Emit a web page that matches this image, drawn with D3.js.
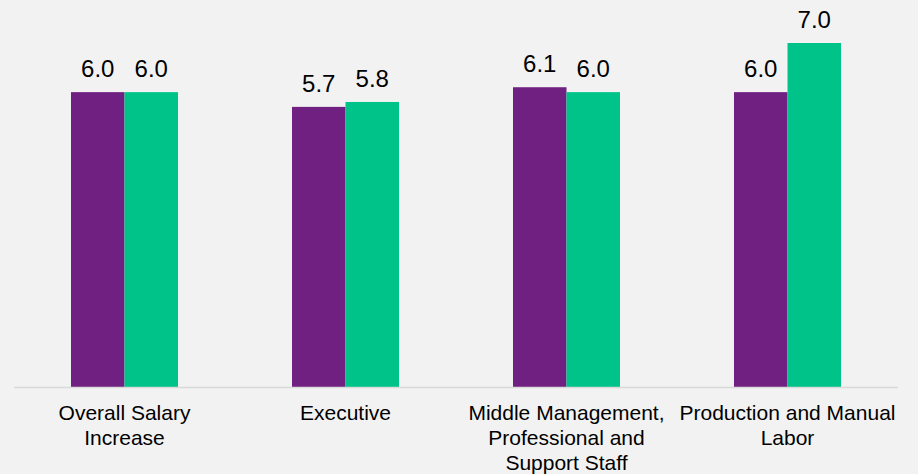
<!DOCTYPE html>
<html>
<head>
<meta charset="utf-8">
<script src="https://cdn.jsdelivr.net/npm/d3@7/dist/d3.min.js"></script>
<style>
  html, body { margin: 0; padding: 0; background: #f2f2f2; }
  svg { display: block; }
  text { font-family: "Liberation Sans", Arial, sans-serif; fill: #000; }
</style>
</head>
<body>
<svg id="chart" width="918" height="474"></svg>
<script>
// Categories (each label split into its display lines)
const categories = [
  "Overall Salary Increase",
  "Executive",
  "Middle Management, Professional and Support Staff",
  "Production and Manual Labor"
];
const categoryLines = [
  ["Overall Salary", "Increase"],
  ["Executive"],
  ["Middle Management,", "Professional and", "Support Staff"],
  ["Production and Manual", "Labor"]
];
// Two series of salary increase values (%)
const seriesNames = ["previous", "current"];
const previousValues = [6.0, 5.7, 6.1, 6.0];
const currentValues = [6.0, 5.8, 6.0, 7.0];
const seriesColors = ["#6f2080", "#00c389"];

const svg = d3.select("#chart");
const W = 918, H = 474;
const plot = { left: 14, right: 898, baseline: 387 };

const x0 = d3.scaleBand()
  .domain(categories)
  .range([plot.left, plot.right])
  .padding(0);

const x1 = d3.scaleBand()
  .domain(seriesNames)
  .range([0, x0.bandwidth()])
  .paddingInner(0)
  .paddingOuter(1.065);

const y = d3.scaleLinear()
  .domain([0, 7])
  .range([plot.baseline, 43]);

const color = d3.scaleOrdinal().domain(seriesNames).range(seriesColors);

const rows = categories.map((c, i) => ({
  category: c,
  lines: categoryLines[i],
  values: [
    { series: seriesNames[0], value: previousValues[i] },
    { series: seriesNames[1], value: currentValues[i] }
  ]
}));

// Bars
const groups = svg.append("g").selectAll("g")
  .data(rows)
  .join("g")
  .attr("transform", d => `translate(${x0(d.category)},0)`);

groups.selectAll("rect")
  .data(d => d.values)
  .join("rect")
  .attr("x", d => x1(d.series))
  .attr("y", d => y(d.value))
  .attr("width", x1.bandwidth())
  .attr("height", d => y(0) - y(d.value))
  .attr("fill", d => color(d.series));

// Value labels
groups.selectAll("text.value")
  .data(d => d.values)
  .join("text")
  .attr("class", "value")
  .attr("x", d => x1(d.series) + x1.bandwidth() / 2)
  .attr("y", d => y(d.value) - 15)
  .attr("text-anchor", "middle")
  .attr("font-size", "24px")
  .text(d => d3.format(".1f")(d.value));

// Baseline
svg.append("line")
  .attr("x1", plot.left)
  .attr("x2", plot.right)
  .attr("y1", y(0) + 0.5)
  .attr("y2", y(0) + 0.5)
  .attr("stroke", "#d9d9d9")
  .attr("stroke-width", 1.5);

// Category labels
const cats = svg.append("g").selectAll("text")
  .data(rows)
  .join("text")
  .attr("x", d => x0(d.category) + x0.bandwidth() / 2)
  .attr("y", 420)
  .attr("text-anchor", "middle")
  .attr("font-size", "21px");

cats.selectAll("tspan")
  .data(d => d.lines)
  .join("tspan")
  .attr("x", function() { return this.parentNode.getAttribute("x"); })
  .attr("dy", (d, i) => i === 0 ? 0 : 25)
  .text(d => d);
</script>
</body>
</html>
